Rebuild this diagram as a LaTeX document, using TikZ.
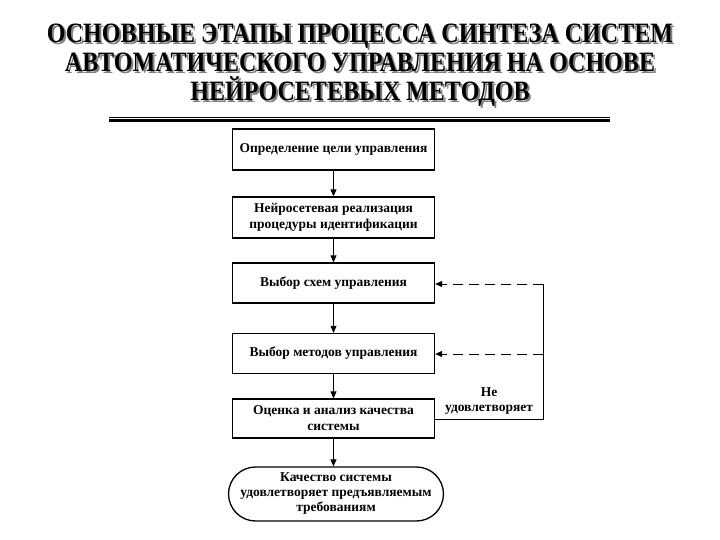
\documentclass[tikz,border=0pt]{standalone}
\usepackage{fontspec}
\setmainfont{Liberation Serif}
\newfontfamily\ttlfont[FakeStretch=0.86]{Liberation Serif}
\usetikzlibrary{arrows.meta,shapes.misc}
\begin{document}
\begin{tikzpicture}[x=1pt,y=-1pt,
  stepbox/.style={draw,line width=1.3pt,minimum width=202pt,inner sep=2pt,align=center,font=\fontsize{13.5}{16}\selectfont\bfseries},
  termbox/.style={draw,line width=1.3pt,rounded rectangle,minimum width=210pt,minimum height=54pt,inner sep=2pt,align=center,font=\fontsize{13.5}{15}\selectfont\bfseries},
  flow/.style={line width=1pt,-{Triangle[length=7pt,width=6pt]}},
  fb/.style={line width=1pt},
  fbd/.style={line width=1pt,dash pattern=on 10pt off 6pt,-{Triangle[length=7pt,width=6pt]}},
  ttl/.style={align=center,font=\ttlfont\fontsize{28}{29}\selectfont\bfseries}
]
\path[use as bounding box,fill=white] (0,0) rectangle (720,540);
% title
\node[ttl,text=black!50] (ttlsh) at (362,67) {ОСНОВНЫЕ ЭТАПЫ ПРОЦЕССА СИНТЕЗА СИСТЕМ\\АВТОМАТИЧЕСКОГО УПРАВЛЕНИЯ НА ОСНОВЕ\\НЕЙРОСЕТЕВЫХ МЕТОДОВ};
\node[ttl] (ttl) at (360,65) {ОСНОВНЫЕ ЭТАПЫ ПРОЦЕССА СИНТЕЗА СИСТЕМ\\АВТОМАТИЧЕСКОГО УПРАВЛЕНИЯ НА ОСНОВЕ\\НЕЙРОСЕТЕВЫХ МЕТОДОВ};
\coordinate (la) at (109,117.5);
\coordinate (lb) at (610,117.5);
\coordinate (lc) at (109,120.5);
\coordinate (ld) at (610,120.5);
\draw[line width=1pt] (la) -- (lb);
\draw[line width=2.5pt] (lc) -- (ld);
% boxes
\node[stepbox,minimum height=41pt] (b1) at (333.5,149.5) {Определение цели управления};
\node[stepbox,minimum height=41pt] (b2) at (333.5,217.5) {Нейросетевая реализация\\процедуры идентификации};
\node[stepbox,minimum height=40pt] (b3) at (333.5,283) {Выбор схем управления};
\node[stepbox,minimum height=40pt] (b4) at (333.5,353.5) {Выбор методов управления};
\node[stepbox,minimum height=39pt] (b5) at (333.5,418.5) {Оценка и анализ качества\\системы};
\node[termbox] (t) at (336,494) {Качество системы\\удовлетворяет предъявляемым\\требованиям};
% flow arrows
\draw[flow] (b1) -- (b2);
\draw[flow] (b2) -- (b3);
\draw[flow] (b3) -- (b4);
\draw[flow] (b4) -- (b5);
\draw[flow] (b5.south) -- (b5.south |- t.north);
% feedback
\coordinate (c1) at (543,419);
\coordinate (c2) at (543,284);
\coordinate (c3) at (543,354);
\draw[fb] (b5.east |- c1) -- (c1) -- (c2);
\draw[fbd] (c2) -- (b3.east |- c2);
\draw[fbd] (c3) -- (b4.east |- c3);
\node[align=center,font=\fontsize{13.5}{15}\selectfont\bfseries,anchor=south,inner sep=1pt] (lbl) at (489,416) {Не\\удовлетворяет};
\end{tikzpicture}
\end{document}
